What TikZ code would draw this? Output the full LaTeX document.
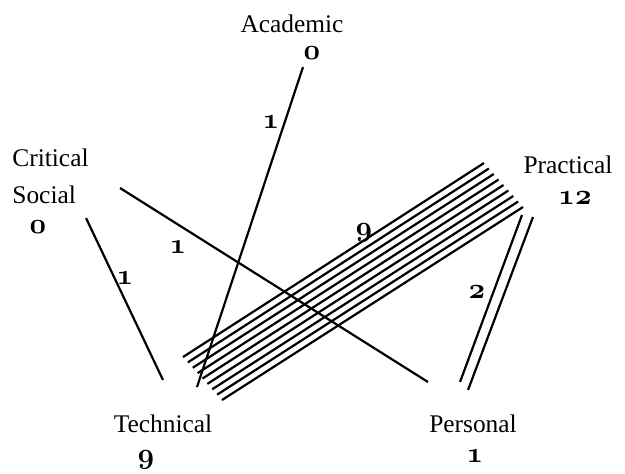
\documentclass[tikz,border=0pt]{standalone}
\usepackage{fontspec}
\setmainfont{Liberation Serif}
\usetikzlibrary{calc}
\newcommand{\osnum}[1]{{\usefont{OML}{cmm}{b}{it}#1}}

\begin{document}
\begin{tikzpicture}[
    x=0.5pt, y=-0.5pt,
    area/.style={font=\fontsize{12.7}{18.5}\selectfont, inner sep=0pt, anchor=base, align=left},
    count/.style={font=\fontsize{13.5}{15}\selectfont, inner sep=0pt, anchor=base},
    weight/.style={font=\fontsize{13.5}{15}\selectfont, inner sep=0pt},
    edge/.style={line width=1.1pt},
]
\useasboundingbox (0,0) rectangle (625,473);

% areas and their counts
\node[area] (acad) at (292,32) {Academic};
\node[count] (acadN) at (312,59) {\osnum{0}};
\node[area, anchor=north west] (crit) at (12,148) {Critical\\Social};
\node[count] (critN) at (38,233) {\osnum{0}};
\node[area] (prac) at (568,173) {Practical};
\node[count] (pracN) at (575,204) {\osnum{12}};
\node[area] (tech) at (163,432) {Technical};
\node[count] (techN) at (146,463) {\osnum{9}};
\node[area] (pers) at (473,432) {Personal};
\node[count] (persN) at (475,462) {\osnum{1}};

% end points of the links
\coordinate (acadT) at (303,67);
\coordinate (techA) at (197,387);
\coordinate (critT) at (86,218);
\coordinate (techC) at (163,380);
\coordinate (critP) at (120,188);
\coordinate (persC) at (428,382);
\coordinate (tech0) at (183,357);
\coordinate (tech8) at (222,400);
\coordinate (prac0) at (484,163);
\coordinate (prac8) at (523,207);
\coordinate (pracA) at (522,215);
\coordinate (pracB) at (533,217);
\coordinate (persA) at (460,382);
\coordinate (persB) at (468,390);

% links
\draw[edge] (acadT) -- (techA);
\draw[edge] (critT) -- (techC);
\draw[edge] (critP) -- (persC);
\foreach \i in {0,...,8}
    \draw[edge] ($(tech0)!\i/8!(tech8)$) -- ($(prac0)!\i/8!(prac8)$);
\draw[edge] (pracA) -- (persA);
\draw[edge] (pracB) -- (persB);

% link weights
\node[weight] (wAT) at (271,122) {\osnum{1}};
\node[weight] (wCT) at (125,278) {\osnum{1}};
\node[weight] (wCP) at (178,247) {\osnum{1}};
\node[weight] (wTP) at (364,233) {\osnum{9}};
\node[weight] (wPP) at (477,292) {\osnum{2}};
\end{tikzpicture}
\end{document}
